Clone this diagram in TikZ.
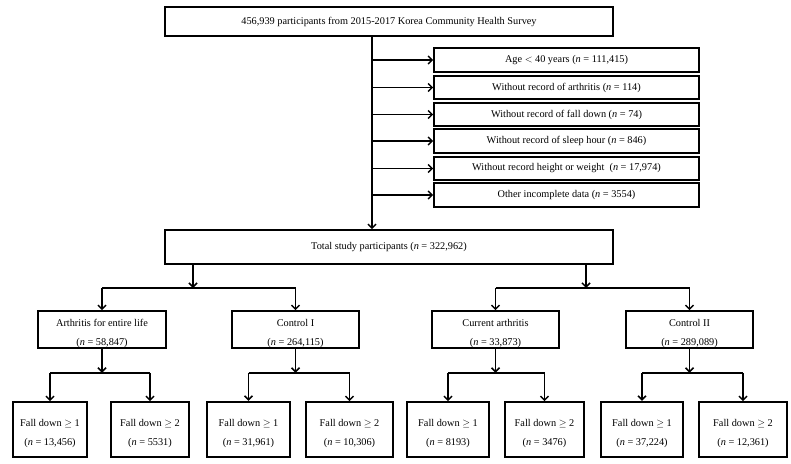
\documentclass[tikz,border=0pt]{standalone}
\usepackage{fontspec}
\setmainfont{Liberation Serif}
\usetikzlibrary{arrows.meta}
\newcommand{\twolines}[2]{\raisebox{-4pt}[\height][\depth]{\begin{tabular}{@{}c@{}}#1\\[7pt]#2\end{tabular}}}
\begin{document}
\begin{tikzpicture}[x=1pt,y=-1pt,
  box/.style={draw, line width=1.6pt, inner sep=0pt, align=center, font=\fontsize{10.3}{12}\selectfont},
  thickbox/.style={box, line width=2.3pt},
  conn/.style={line width=1.5pt},
  arr/.style={conn, -{Straight Barb[length=4pt,width=8pt]}}
]
\useasboundingbox (0,0) rectangle (791,463);

% top and exclusions
\node[box, minimum width=448pt, minimum height=29pt] (top) at (389,21.5) {456,939 participants from 2015-2017 Korea Community Health Survey};
\coordinate (vx) at (372,0);
\node[box, minimum width=265pt, minimum height=24pt] (e1) at (566.5,60) {Age $<$ 40 years (\textit{n} = 111,415)};
\node[box, minimum width=265pt, minimum height=23pt] (e2) at (566.5,87.5) {Without record of arthritis (\textit{n} = 114)};
\node[box, minimum width=265pt, minimum height=23pt] (e3) at (566.5,114.5) {Without record of fall down (\textit{n} = 74)};
\node[box, minimum width=265pt, minimum height=24pt] (e4) at (566.5,141) {Without record of sleep hour (\textit{n} = 846)};
\node[box, minimum width=265pt, minimum height=23pt] (e5) at (566.5,168.5) {Without record height or weight\ \ (\textit{n} = 17,974)};
\node[box, minimum width=265pt, minimum height=24pt] (e6) at (566.5,195) {Other incomplete data (\textit{n} = 3554)};

\node[box, minimum width=448pt, minimum height=34pt] (total) at (389,247) {Total study participants (\textit{n} = 322,962)};

\draw[arr] (top.south -| vx) -- (total.north -| vx);
\foreach \e in {e1,e2,e3,e4,e5,e6}{
  \draw[arr] (vx |- \e.west) -- (\e.west);
}

% second level
\node[box, minimum width=128pt, minimum height=37pt] (a1) at (102,329.5) {\twolines{Arthritis for entire life}{(\textit{n} = 58,847)}};
\node[box, minimum width=127pt, minimum height=37pt] (c1) at (295.5,329.5) {\twolines{Control I}{(\textit{n} = 264,115)}};
\node[box, minimum width=127pt, minimum height=37pt] (a2) at (495.5,329.5) {\twolines{Current arthritis}{(\textit{n} = 33,873)}};
\node[box, minimum width=127pt, minimum height=37pt] (c2) at (689.5,329.5) {\twolines{Control II}{(\textit{n} = 289,089)}};

\coordinate (jl) at (193,288);
\coordinate (jr) at (586,288);
\draw[arr] (total.south -| jl) -- (jl);
\draw[conn] (a1.north |- jl) -- (c1.north |- jl);
\draw[arr] (a1.north |- jl) -- (a1.north);
\draw[arr] (c1.north |- jl) -- (c1.north);
\draw[arr] (total.south -| jr) -- (jr);
\draw[conn] (a2.north |- jr) -- (c2.north |- jr);
\draw[arr] (a2.north |- jr) -- (a2.north);
\draw[arr] (c2.north |- jr) -- (c2.north);

% fall boxes
\node[box, minimum width=74pt, minimum height=55pt] (f1) at (50,429.5) {\twolines{Fall down $\geq$ 1}{(\textit{n} = 13,456)}};
\node[box, minimum width=78pt, minimum height=55pt] (f2) at (150,429.5) {\twolines{Fall down $\geq$ 2}{(\textit{n} = 5531)}};
\node[thickbox, minimum width=83pt, minimum height=55pt] (f3) at (248.5,429.5) {\twolines{Fall down $\geq$ 1}{(\textit{n} = 31,961)}};
\node[box, minimum width=87pt, minimum height=55pt] (f4) at (349.5,429.5) {\twolines{Fall down $\geq$ 2}{(\textit{n} = 10,306)}};
\node[box, minimum width=82pt, minimum height=55pt] (f5) at (448,429.5) {\twolines{Fall down $\geq$ 1}{(\textit{n} = 8193)}};
\node[box, minimum width=79pt, minimum height=55pt] (f6) at (544.5,429.5) {\twolines{Fall down $\geq$ 2}{(\textit{n} = 3476)}};
\node[thickbox, minimum width=82pt, minimum height=55pt] (f7) at (642,429.5) {\twolines{Fall down $\geq$ 1}{(\textit{n} = 37,224)}};
\node[box, minimum width=88pt, minimum height=55pt] (f8) at (743,429.5) {\twolines{Fall down $\geq$ 2}{(\textit{n} = 12,361)}};

\foreach \p/\l/\r in {a1/f1/f2, c1/f3/f4, a2/f5/f6, c2/f7/f8}{
  \coordinate (j\p) at ([yshift=-24pt]\p.south);
  \draw[arr] (\p.south) -- (j\p);
  \draw[conn] (\l.north |- j\p) -- (\r.north |- j\p);
  \draw[arr] (\l.north |- j\p) -- (\l.north);
  \draw[arr] (\r.north |- j\p) -- (\r.north);
}
\end{tikzpicture}
\end{document}
